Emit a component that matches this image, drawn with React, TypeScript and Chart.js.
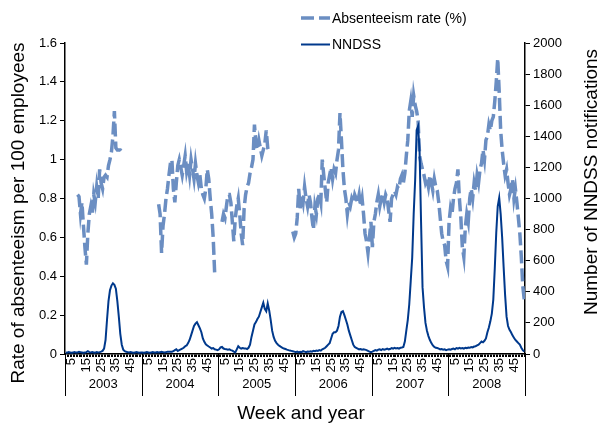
import React, { useEffect, useRef } from 'react';
import { Chart, registerables } from 'chart.js';

Chart.register(...registerables);

const years = ['2003', '2004', '2005', '2006', '2007', '2008'];
const weeksPerYear = 52;
const weekTickLabels = [5, 15, 25, 35, 45];

// Absenteeism rate (%) per week, null = no data
const absent2003 = [
  null, null, null, null, null, null, null, null, 0.82, 0.81,
  0.72, 0.78, 0.66, 0.55, 0.46, 0.62, 0.72, 0.76, 0.72, 0.82,
  0.78, 0.86, 0.80, 0.95, 0.88, 0.85, 0.91, 0.92, 0.91, 0.97,
  1.00, 1.04, 1.12, 1.25, 1.06, 1.05, 1.05, 1.05, 1.04, null,
  null, null, null, null, null, null, null, null, null, null, null, null,
];
const absent2004 = [
  null, null, null, null, null, null, null, null, null, null,
  null, 0.77, 0.72, 0.52, 0.66, 0.72, 0.80, 0.85, 0.92, 0.98,
  1.00, 0.85, 0.78, 0.88, 0.97, 1.00, 0.96, 0.92, 0.97, 1.02,
  0.94, 0.98, 0.92, 1.00, 0.95, 0.90, 0.98, 0.92, 0.88, 0.92,
  0.85, 0.82, 0.80, 0.85, 0.95, 0.90, 0.80, 0.72, 0.60, 0.42, null, null,
];
const absent2005 = [
  null, null, 0.68, 0.72, 0.70, 0.76, 0.82, 0.82, 0.78, 0.68,
  0.58, 0.70, 0.76, 0.80, 0.72, 0.62, 0.56, 0.75, 0.82, 0.86,
  0.88, 0.93, 0.96, 1.00, 1.18, 1.08, 1.05, 1.10, 1.06, 1.02,
  1.05, 1.08, 1.15, 1.06, 1.04, null, null, null, null, null,
  null, null, null, null, null, null, null, null, null, null, 0.63, 0.60,
];
const absent2006 = [
  0.62, 0.70, 0.85, 0.75, 0.82, 0.78, 0.86, 0.80, 0.76, 0.82,
  0.78, 0.70, 0.64, 0.76, 0.72, 0.80, 0.82, 0.78, 1.00, 0.92,
  0.85, 0.78, 0.88, 0.92, 0.96, 0.90, 0.95, 0.93, 1.00, 1.05,
  1.24, 1.10, 0.95, 0.85, 0.80, 0.72, 0.78, 0.76, 0.80, 0.78,
  0.82, 0.80, 0.78, 0.82, 0.76, 0.80, 0.72, 0.62, 0.58, 0.52, 0.60, 0.68,
];
const absent2007 = [
  0.55, 0.68, 0.72, 0.78, 0.82, 0.76, 0.80, 0.82, 0.78, 0.82,
  0.80, 0.74, 0.68, 0.80, 0.82, 0.84, 0.82, 0.86, 0.85, 0.90,
  0.92, 0.88, 0.93, 1.02, 1.10, 1.25, 1.30, 1.22, 1.33, 1.28,
  1.25, 1.20, 1.02, 0.98, 0.95, 0.92, 0.88, 0.90, 0.86, 0.92,
  0.88, 0.84, 0.90, 0.86, 0.84, 0.78, 0.70, 0.62, 0.58, 0.56, 0.48, 0.45,
];
const absent2008 = [
  0.68, 0.75, 0.72, 0.80, 0.85, 0.88, 0.95, 0.80, 0.70, 0.55,
  0.50, 0.65, 0.72, 0.68, 0.80, 0.85, 0.80, 0.88, 0.84, 0.92,
  0.88, 0.95, 0.98, 1.05, 1.00, 1.10, 1.12, 1.18, 1.15, 1.20,
  1.22, 1.30, 1.40, 1.52, 1.35, 1.15, 1.05, 0.98, 0.92, 0.95,
  0.88, 0.82, 0.85, 0.90, 0.80, 0.85, 0.78, 0.70, 0.62, 0.50, 0.35, 0.28,
];

// NNDSS notifications per week
const nndss2003 = [
  10, 8, 12, 10, 8, 10, 12, 9, 10, 14,
  12, 10, 8, 10, 12, 18, 12, 10, 12, 10,
  8, 12, 10, 12, 15, 20, 35, 90, 220, 340,
  410, 440, 455, 445, 420, 340, 240, 130, 60, 28,
  18, 14, 12, 10, 12, 10, 8, 10, 12, 10, 8, 10,
];
const nndss2004 = [
  10, 8, 10, 12, 10, 8, 10, 12, 10, 10,
  12, 10, 12, 14, 12, 10, 12, 14, 15, 14,
  15, 18, 25, 30, 20, 25, 30, 35, 40, 50,
  55, 70, 90, 120, 150, 180, 195, 205, 185, 165,
  140, 100, 78, 62, 55, 48, 42, 35, 38, 30, 28, 25,
];
const nndss2005 = [
  30, 42, 45, 35, 32, 30, 28, 30, 25, 22,
  15, 10, 30, 50, 40, 35, 38, 35, 36, 32,
  40, 60, 110, 150, 190, 205, 225, 240, 270, 300,
  330, 290, 275, 325, 280, 220, 150, 110, 85, 70,
  60, 52, 45, 40, 35, 32, 28, 25, 22, 20, 18, 15,
];
const nndss2006 = [
  12, 15, 10, 14, 12, 18, 15, 12, 16, 14,
  18, 15, 20, 18, 22, 20, 25, 22, 30, 35,
  40, 50, 60, 70, 100, 130, 140, 140, 150, 180,
  240, 270, 275, 250, 220, 190, 150, 120, 90, 60,
  45, 40, 35, 30, 32, 28, 30, 28, 25, 20, 15, 12,
];
const nndss2007 = [
  15, 20, 25, 22, 28, 30, 25, 32, 28, 30,
  35, 30, 32, 38, 35, 40, 36, 38, 35, 40,
  42, 45, 80, 150, 220, 320, 470, 620, 900, 1120,
  1440, 1466, 1300, 850, 430, 300, 200, 150, 115, 90,
  70, 55, 45, 40, 38, 35, 30, 32, 28, 30, 25, 28,
];
const nndss2008 = [
  30, 28, 32, 35, 30, 38, 35, 40, 36, 38,
  35, 40, 38, 42, 40, 45, 42, 48, 50, 55,
  60, 70, 80, 75, 85, 100, 140, 170, 210, 260,
  350, 550, 780, 950, 1005, 900, 750, 560, 380, 240,
  180, 155, 140, 120, 105, 90, 80, 70, 60, 40, 25, 15,
];

const absenteeism = [...absent2003, ...absent2004, ...absent2005, ...absent2006, ...absent2007, ...absent2008];
const notifications = [...nndss2003, ...nndss2004, ...nndss2005, ...nndss2006, ...nndss2007, ...nndss2008];

const leftTitle = 'Rate of absenteeism per 100 employees';
const rightTitle = 'Number of NNDSS notifications';
const xTitle = 'Week and year';

const ABS_COLOR = '#6b8ec2';
const NNDSS_COLOR = '#00398c';
const FONT = '"Liberation Sans", Arial, Helvetica, sans-serif';

const toPoints = (arr: (number | null)[]) => arr.map((v, i) => ({ x: i, y: v }));

const overlayPlugin = {
  id: 'overlay',
  afterDraw(chart: any) {
    const ctx = chart.ctx as CanvasRenderingContext2D;
    const xs = chart.scales.x;
    const area = chart.chartArea;
    ctx.save();
    // year separators
    ctx.strokeStyle = '#000';
    ctx.lineWidth = 1;
    for (let k = 0; k <= years.length; k++) {
      const px = Math.round(xs.getPixelForValue(k * weeksPerYear - 0.5)) + 0.5;
      ctx.beginPath();
      ctx.moveTo(px, area.bottom);
      ctx.lineTo(px, 396);
      ctx.stroke();
    }
    // year labels
    ctx.fillStyle = '#000';
    ctx.font = `13px ${FONT}`;
    ctx.textAlign = 'center';
    ctx.textBaseline = 'middle';
    years.forEach((y, k) => {
      const px = xs.getPixelForValue(k * weeksPerYear + (weeksPerYear - 1) / 2);
      ctx.fillText(y, px, 384);
    });
    // axis titles
    ctx.font = `19px ${FONT}`;
    ctx.fillText(xTitle, 301, 414);
    ctx.save();
    ctx.translate(19, 213);
    ctx.rotate(-Math.PI / 2);
    ctx.fillText(leftTitle, 0, 0);
    ctx.restore();
    ctx.save();
    ctx.translate(592, 182);
    ctx.rotate(-Math.PI / 2);
    ctx.fillText(rightTitle, 0, 0);
    ctx.restore();
    // legend
    const ds = chart.data.datasets;
    const items = [
      { label: ds[1].label, color: ds[1].borderColor, width: ds[1].borderWidth, dash: ds[1].borderDash, y: 18 },
      { label: ds[0].label, color: ds[0].borderColor, width: ds[0].borderWidth, dash: [], y: 44.5 },
    ];
    ctx.font = `14px ${FONT}`;
    ctx.textAlign = 'left';
    items.forEach((it) => {
      ctx.strokeStyle = it.color;
      ctx.lineWidth = it.width;
      ctx.setLineDash(it.dash);
      ctx.beginPath();
      ctx.moveTo(301, it.y);
      ctx.lineTo(330, it.y);
      ctx.stroke();
      ctx.setLineDash([]);
      ctx.fillStyle = '#000';
      ctx.fillText(it.label, 332, it.y + 1);
    });
    ctx.restore();
  },
};

export default function App() {
  const ref = useRef<HTMLCanvasElement>(null);
  useEffect(() => {
    if (!ref.current) return;
    Chart.defaults.font.family = FONT;
    Chart.defaults.color = '#000';
    const chart = new Chart(ref.current, {
      type: 'line',
      data: {
        datasets: [
          {
            label: 'NNDSS',
            data: toPoints(notifications),
            yAxisID: 'y2',
            borderColor: NNDSS_COLOR,
            borderWidth: 2,
            pointRadius: 0,
            tension: 0,
            order: 0,
          },
          {
            label: 'Absenteeism rate (%)',
            data: toPoints(absenteeism),
            yAxisID: 'y',
            borderColor: ABS_COLOR,
            borderWidth: 3.5,
            borderDash: [13, 5],
            pointRadius: 0,
            tension: 0,
            spanGaps: false,
            order: 1,
          },
        ],
      },
      options: {
        animation: false,
        responsive: false,
        layout: { padding: { top: 43, left: 0, right: 0, bottom: 0 } },
        plugins: { legend: { display: false }, tooltip: { enabled: false } },
        scales: {
          x: {
            type: 'linear',
            min: -0.5,
            max: years.length * weeksPerYear - 0.5,
            afterBuildTicks: (scale: any) => {
              const t = [];
              for (let i = 0; i < years.length * weeksPerYear; i++) t.push({ value: i });
              scale.ticks = t;
            },
            afterFit: (scale: any) => {
              scale.height = 76;
            },
            ticks: {
              autoSkip: false,
              minRotation: 90,
              maxRotation: 90,
              padding: 1,
              font: { size: 13 },
              callback: (v: any) => {
                const w = (Math.round(v) % weeksPerYear) + 1;
                return weekTickLabels.includes(w) ? String(w) : '';
              },
            },
            grid: { drawOnChartArea: false, tickLength: 3, color: '#000', lineWidth: 1 },
            border: { color: '#000', width: 1.5 },
          },
          y: {
            position: 'left',
            min: 0,
            max: 1.6,
            afterFit: (scale: any) => {
              scale.width = 65;
            },
            ticks: {
              stepSize: 0.2,
              font: { size: 13 },
              padding: 3,
              callback: (v: any) => String(Number(Number(v).toFixed(1))),
            },
            grid: { drawOnChartArea: false, tickLength: 5, color: '#000' },
            border: { color: '#000', width: 1.5 },
          },
          y2: {
            position: 'right',
            min: 0,
            max: 2000,
            afterFit: (scale: any) => {
              scale.width = 78;
            },
            ticks: {
              stepSize: 200,
              font: { size: 13 },
              padding: 3,
              callback: (v: any) => String(v),
            },
            grid: { drawOnChartArea: false, tickLength: 5, color: '#000' },
            border: { color: '#000', width: 1.5 },
          },
        },
      },
      plugins: [overlayPlugin],
    } as any);
    return () => chart.destroy();
  }, []);
  return (
    <div style={{ position: 'absolute', left: 0, top: 0, width: 603, height: 430, background: '#fff' }}>
      <canvas ref={ref} width={603} height={430} />
    </div>
  );
}
